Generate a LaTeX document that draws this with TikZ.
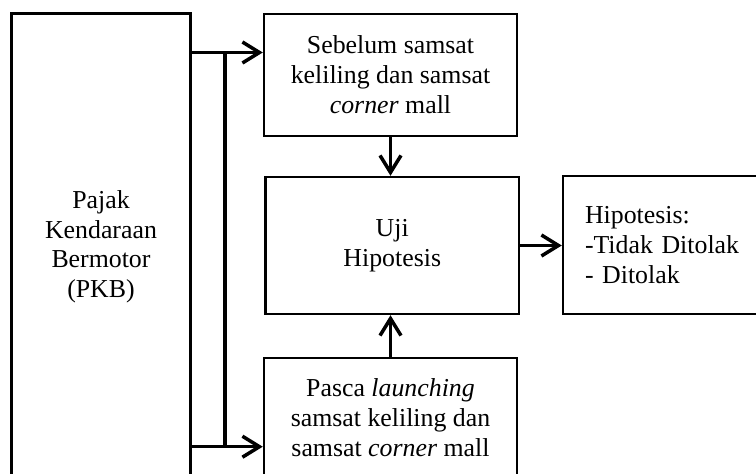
\documentclass[tikz,border=0pt]{standalone}
\usepackage{fontspec}
\setmainfont{Liberation Serif}
\usetikzlibrary{calc,arrows.meta}

\begin{document}
\begin{tikzpicture}[font=\fontsize{14.7}{17}\selectfont,
    box/.style={draw,rectangle,line width=1.4pt,align=center},
    flow/.style={line width=2pt,-{Straight Barb[length=3.4mm,width=4.2mm,line width=2pt]}}]
      \useasboundingbox (0,0) rectangle (15.12,9.46);
      \draw (2.02,4.525) node [box,minimum width=3.58cm,minimum height=9.33cm] (pkb) {Pajak\\Kendaraan\\Bermotor\\(PKB)};
      \draw (7.81,7.96) node [box,minimum width=5.06cm,minimum height=2.44cm] (sebelum) {Sebelum samsat\\keliling dan samsat\\\textit{corner} mall}
        ($(sebelum.west) + (0,0.45)$) coordinate (sin);
      \draw (7.845,4.55) node [box,minimum width=5.07cm,minimum height=2.74cm] (uji) {Uji\\Hipotesis};
      \draw (7.81,1.10) node [box,minimum width=5.06cm,minimum height=2.40cm] (pasca) {Pasca \textit{launching}\\samsat keliling dan\\samsat \textit{corner} mall}
        ($(pasca.west) + (0,-0.574)$) coordinate (pin);
      \draw (13.33,4.56) node [box,align=left,text width=3.26cm,inner xsep=0.44cm,minimum height=2.76cm] (hasil) {Hipotesis:\\-Tidak Ditolak\\- Ditolak};
      \draw[line width=2pt]
        (4.5,0 |- sin) coordinate (top) -- (4.5,0 |- pin);
      \draw[flow] (pkb.east |- sin) -- (sin);
      \draw[flow] (pkb.east |- pin) -- (pin);
      \draw[flow] (sebelum.south) -- (sebelum.south |- uji.north);
      \draw[flow] (pasca.north) -- (pasca.north |- uji.south);
      \draw[flow] (uji.east) -- (hasil.west |- uji.east);
    \end{tikzpicture}
\end{document}
